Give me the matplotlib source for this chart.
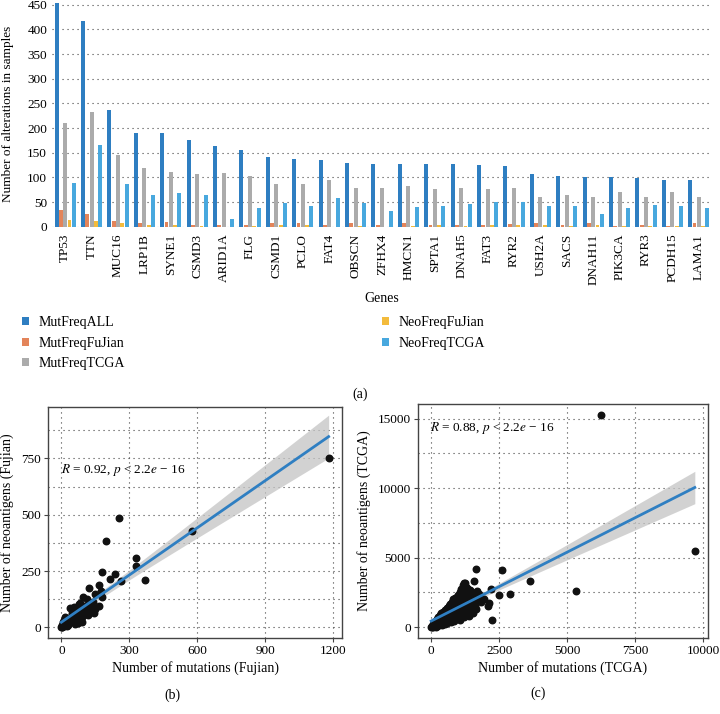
import numpy as np
import matplotlib.pyplot as plt

plt.rcParams['font.family'] = ['Liberation Serif', 'DejaVu Serif']
plt.rcParams['mathtext.fontset'] = 'stix'

# dados do grafico de barras (a)
genes = ["TP53", "TTN", "MUC16", "LRP1B", "SYNE1", "CSMD3", "ARID1A", "FLG", "CSMD1",
         "PCLO", "FAT4", "OBSCN", "ZFHX4", "HMCN1", "SPTA1", "DNAH5", "FAT3", "RYR2",
         "USH2A", "SACS", "DNAH11", "PIK3CA", "RYR3", "PCDH15", "LAMA1"]
mut_all = [454, 417, 236, 189, 189, 176, 164, 155, 141, 138, 136, 130, 128, 127, 127,
           127, 126, 123, 107, 103, 100, 100, 98, 95, 95]
mut_fujian = [34, 26, 11, 7, 9, 4, 3, 3, 7, 7, 3, 7, 3, 7, 4, 3, 3, 5, 7, 3, 7, 1, 3, 2, 7]
mut_tcga = [211, 233, 145, 119, 111, 107, 109, 103, 86, 87, 94, 78, 78, 82, 76, 78, 76,
            78, 61, 64, 61, 70, 60, 70, 60]
neo_fujian = [13, 12, 8, 3, 3, 2, 0, 2, 3, 4, 0, 2, 0, 2, 3, 1, 3, 3, 4, 2, 3, 1, 1, 1, 1]
neo_tcga = [88, 166, 87, 64, 68, 64, 16, 37, 49, 42, 58, 49, 31, 39, 41, 47, 50, 51, 41,
            42, 26, 38, 43, 41, 38]

series = ["MutFreqALL", "MutFreqFuJian", "MutFreqTCGA", "NeoFreqFuJian", "NeoFreqTCGA"]
cores = ["#2E7EC1", "#E3845A", "#ABABAB", "#F3BB3C", "#48A8DE"]

# dados de dispersao (b) Fujian
fj_mut = [1180, 575, 254, 199, 328, 330, 369, 264, 180, 214, 236, 121, 168, 180, 150,
          177, 96, 114, 106, 165, 143, 128, 118, 77, 65, 40, 47, 84, 99, 69, 62, 18,
          10, 18, 3, 1, 24, 32, 54, 91, 140, 128, 81, 54, 150, 143, 92, 62, 0, 5, 12,
          8, 28, 35, 45, 70, 110, 75, 58, 20]
fj_neo = [752, 428, 487, 384, 307, 274, 209, 207, 246, 215, 237, 173, 187, 136, 150,
          162, 133, 128, 94, 97, 84, 77, 54, 103, 84, 84, 62, 62, 77, 40, 29, 47,
          32, 18, 3, 1, 8, 26, 50, 25, 113, 94, 109, 91, 80, 62, 47, 35, 3, 10, 5,
          22, 12, 40, 30, 55, 60, 20, 15, 28]

# dados de dispersao (c) TCGA
tc_mut = [0, 20, 40, 60, 80, 100, 100, 130, 150, 160, 200, 200, 220, 250, 260, 280, 300,
          300, 320, 350, 350, 380, 400, 400, 420, 450, 460, 480, 500, 500, 520, 550, 560,
          580, 600, 600, 620, 640, 650, 680, 700, 700, 720, 740, 750, 760, 780, 800, 800,
          820, 840, 850, 870, 880, 900, 900, 920, 940, 950, 960, 980, 1000, 1000, 1020,
          1040, 1050, 1060, 1080, 1100, 1100, 1120, 1150, 1150, 1180, 1200, 1200, 1220,
          1250, 1250, 1270, 1300, 1300, 1320, 1350, 1380, 1400, 1420, 1450, 1500, 1500,
          1550, 1600, 1650,
          50, 70, 90, 110, 120, 140, 170, 180, 190, 210, 230, 240, 270, 290, 310, 330,
          340, 360, 370, 390, 410, 430, 440, 470, 490, 510, 530, 540, 570, 590, 610, 630,
          660, 670, 690, 710, 730, 730, 760, 770, 790, 810, 830, 860, 860, 890, 910, 930,
          950, 970, 990, 1010, 1030, 1060, 1070, 1090, 1110, 1130, 1140, 1160, 1170, 1190,
          1210, 1230, 1240, 1260, 1280, 1290, 1310, 1340, 1360, 1370, 1390, 1410, 1430,
          1460, 1480, 1520, 1560, 1580, 1620, 1700, 1750, 1800, 1850,
          6264, 9700, 5339, 3637, 2897, 2601, 1651, 2479, 2194, 2231, 1577, 1676, 1946,
          2131, 2094, 1577, 1354, 1330, 1207]
tc_neo = [0, 30, 80, 20, 150, 60, 250, 120, 350, 40, 100, 300, 500, 180, 700, 400, 120,
          600, 850, 250, 1000, 500, 180, 750, 1100, 350, 900, 600, 250, 1200, 800, 450,
          1050, 1350, 300, 650, 900, 1500, 1200, 500, 800, 1650, 1050, 350, 1350, 1800,
          650, 950, 1550, 2000, 1200, 450, 800, 1700, 1400, 2100, 1000, 650, 1900, 1250,
          2300, 850, 1600, 2100, 1100, 550, 2500, 1400, 1800, 2750, 900, 2300, 1200, 3000,
          700, 1600, 2000, 2600, 3200, 1000, 1350, 2200, 2850, 1750, 800, 1200, 1500, 2400,
          1300, 1800, 1050, 1500, 1300,
          100, 200, 120, 300, 180, 220, 420, 150, 330, 600, 250, 450, 550, 300, 750, 450,
          650, 900, 380, 620, 850, 1000, 500, 750, 1050, 650, 950, 1250, 800, 1100, 1400,
          750, 1000, 1550, 1300, 900, 1200, 1700, 1000, 1500, 1900, 1250, 1700, 1100, 2100,
          1500, 1800, 1250, 2200, 1600, 1950, 1350, 2300, 1700, 2100, 1250, 2400, 1600,
          2000, 2600, 1400, 1900, 2300, 2800, 1500, 2000, 2450, 2900, 1700, 2300, 2600,
          1400, 2000, 2700, 1800, 2200, 1600, 2500, 2000, 1700, 2300, 1900, 2400, 2100,
          1800,
          15235, 5517, 2613, 3333, 2397, 4125, 4175, 2347, 2735, 525, 3310, 2635, 2016,
          1728, 1536, 1440, 2059, 2780, 3165]


def ajuste(x, y):
    # regressao linear com banda de confianca de 95%
    x = np.asarray(x, float)
    y = np.asarray(y, float)
    b, a = np.polyfit(x, y, 1)
    n = len(x)
    resid = y - (a + b * x)
    s = np.sqrt(np.sum(resid ** 2) / (n - 2))
    xs = np.linspace(x.min(), x.max(), 100)
    se = s * np.sqrt(1 / n + (xs - x.mean()) ** 2 / np.sum((x - x.mean()) ** 2))
    ys = a + b * xs
    return xs, ys, 1.97 * se


def dispersao(ax, x, y, texto, tx, ty):
    xs, ys, ci = ajuste(x, y)
    ax.fill_between(xs, ys - ci, ys + ci, color="#C4C4C4", alpha=0.75, lw=0, zorder=2)
    ax.scatter(x, y, s=22, color="#111111", zorder=3)
    ax.plot(xs, ys, color="#2F7FC2", lw=2.0, zorder=4)
    ax.text(tx, ty, texto, fontsize=9.5, va="center", zorder=5)
    ax.grid(which="major", linestyle=(0, (1, 3.5)), color="#444444", lw=0.8)
    ax.grid(which="minor", axis="y", linestyle=(0, (1, 3.5)), color="#444444", lw=0.8)
    ax.set_axisbelow(True)
    for sp in ax.spines.values():
        sp.set_color("#444444")
        sp.set_linewidth(1.0)
    ax.tick_params(which="major", length=3, color="#444444", labelsize=9.5, pad=2)
    ax.tick_params(which="minor", length=0)


fig = plt.figure(figsize=(7.2, 7.14), dpi=100)

# (a) barras
ax = fig.add_axes([52 / 720, 1 - 226.7 / 714, 660 / 720, 225 / 714])
x = np.arange(len(genes))
dados = [mut_all, mut_fujian, mut_tcga, neo_fujian, neo_tcga]
for i in range(5):
    ax.bar(x + (i - 2) * 0.163, dados[i], 0.15, color=cores[i], label=series[i], zorder=3)
ax.set_xlim(-0.5, len(genes) - 0.5)
ax.set_ylim(0, 456)
ax.set_yticks(range(0, 451, 50))
ax.set_xticks(x)
ax.set_xticklabels(genes, rotation=90, fontsize=9.5)
ax.tick_params(length=0, labelsize=9.5)
ax.tick_params(axis="x", pad=5)
ax.grid(axis="y", linestyle=(0, (1, 3.5)), color="#444444", lw=0.8)
for sp in ax.spines.values():
    sp.set_visible(False)
ax.set_xlabel("Genes", fontsize=10)
ax.xaxis.set_label_coords(0.5, -0.29)
ax.set_ylabel("Number of alterations in samples", fontsize=9.5)
ax.yaxis.set_label_coords(-0.058, 0.5)

fig.legend(loc="upper left", bbox_to_anchor=(22 / 720, 1 - 316 / 714), ncol=2,
           frameon=False, fontsize=10, handlelength=0.5, handleheight=0.5,
           handletextpad=0.7, columnspacing=18.5, labelspacing=0.55,
           borderpad=0, borderaxespad=0)
fig.text(360 / 720, 1 - 394 / 714, "(a)", ha="center", va="center", fontsize=10)

# (b) Fujian
axb = fig.add_axes([48 / 720, 1 - 638 / 714, 294 / 720, 231 / 714])
dispersao(axb, fj_mut, fj_neo, r"$R$ = 0.92, $p$ < 2.2$e$ − 16", 0, 700)
axb.set_xlim(-59, 1239)
axb.set_ylim(-47, 978)
axb.set_xticks([0, 300, 600, 900, 1200])
axb.set_yticks([0, 250, 500, 750])
axb.set_yticks([125, 375, 625, 875], minor=True)
axb.set_xlabel("Number of mutations (Fujian)", fontsize=10, labelpad=3)
axb.set_ylabel("Number of neoantigens (Fujian)", fontsize=10, labelpad=5)
fig.text(172 / 720, 1 - 695 / 714, "(b)", ha="center", va="center", fontsize=10)

# (c) TCGA
axc = fig.add_axes([418 / 720, 1 - 638 / 714, 290 / 720, 234 / 714])
dispersao(axc, tc_mut, tc_neo, r"$R$ = 0.88, $p$ < 2.2$e$ − 16", -60, 14350)
axc.set_xlim(-485, 10185)
axc.set_ylim(-780, 16060)
axc.set_xticks([0, 2500, 5000, 7500, 10000])
axc.set_yticks([0, 5000, 10000, 15000])
axc.set_yticks([2500, 7500, 12500], minor=True)
axc.set_xlabel("Number of mutations (TCGA)", fontsize=10, labelpad=3)
axc.set_ylabel("Number of neoantigens (TCGA)", fontsize=10, labelpad=5)
fig.text(538 / 720, 1 - 693 / 714, "(c)", ha="center", va="center", fontsize=10)

plt.savefig("out.png", dpi=100)
